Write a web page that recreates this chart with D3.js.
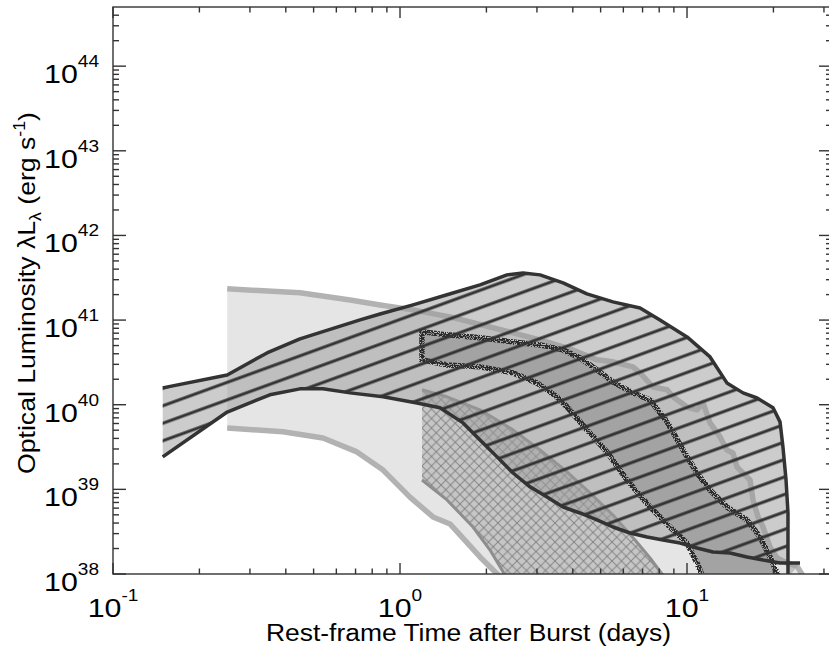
<!DOCTYPE html>
<html>
<head>
<meta charset="utf-8">
<script src="https://cdn.jsdelivr.net/npm/d3@7"></script>
<style>
  body { margin: 0; background: #fff; }
  svg { display: block; }
  text { font-family: "Liberation Sans", Arial, Helvetica, sans-serif; fill: #000; }
</style>
</head>
<body>
<div id="chart"></div>
<script>
// light band (thick grey edges), days vs erg/s
const bandA_upper = [
  [0.25,2.34e41],[0.448,2.10e41],[0.67,1.73e41],[0.852,1.51e41],[1.11,1.32e41],[1.49,1.09e41],
  [1.66,1.0e41],[2.48,7.06e40],[3.25,5.52e40],[4.0,4.44e40],[4.86,3.39e40],[5.52,3.21e40],
  [6.48,2.80e40],[6.86,2.38e40],[7.61,1.62e40],[8.52,1.50e40],[8.94,1.24e40],[10.0,9.4e39],
  [10.83,8.7e39],[11.37,1.05e40],[12.03,6.1e39],[13.03,4.16e39],[13.77,2.92e39],[14.46,2.69e39],
  [14.93,1.84e39],[15.67,1.56e39],[16.58,1.29e39],[16.98,7.5e38],[17.68,4.72e38],[18.40,3.59e38],
  [19.46,2.08e38],[20.59,1.55e38],[22.3,1.35e38],[24.17,1.24e38],[25.6,9e37]
];
const bandA_lower = [
  [0.25,5.3e39],[0.391,4.8e39],[0.539,4.05e39],[0.708,2.77e39],[0.873,1.69e39],[1.083,8.1e38],
  [1.303,4.72e38],[1.493,3.9e38],[1.90,1.59e38],[2.06,1.21e38],[2.25,9e37]
];
// cross-hatched band
const crossB_upper = [
  [1.193,1.50e40],[1.458,1.24e40],[1.90,8.7e39],[2.476,5.04e39],[3.075,2.92e39],[3.818,1.61e39],
  [4.59,9.07e38],[5.52,4.98e38],[6.59,2.52e38],[7.43,1.55e38],[8.18,1.0e38],[8.5,9e37]
];
const crossB_lower = [
  [1.193,1.29e39],[1.458,7.5e38],[1.796,3.59e38],[2.059,1.92e38],[2.285,1.06e38],[2.34,9e37]
];
// dark stippled band
const stipC_upper = [
  [1.193,7.26e40],[1.458,6.69e40],[1.90,6.17e40],[2.476,5.52e40],[3.075,5.09e40],[3.70,4.44e40],
  [4.24,3.57e40],[4.86,2.58e40],[5.52,1.86e40],[6.48,1.38e40],[7.43,1.14e40],[8.52,6.27e39],
  [9.68,2.92e39],[10.83,1.56e39],[12.03,9.8e38],[13.77,6.19e38],[16.18,4.35e38],[17.96,2.74e38],
  [19.46,1.59e38],[20.59,1.03e38],[20.9,9e37]
];
const stipC_lower = [
  [1.193,3.39e40],[1.458,2.95e40],[1.90,2.80e40],[2.476,2.38e40],[3.0,1.81e40],[3.52,1.24e40],
  [3.82,9.4e39],[4.48,5.04e39],[5.26,2.77e39],[6.18,1.29e39],[7.43,6.19e38],[8.72,3.59e38],
  [10.0,2.32e38],[10.83,1.35e38],[11.28,9.7e37],[11.4,8.5e37]
];
// line-hatched band (dark edges)
const hatchD_upper = [
  [0.149,1.58e40],[0.25,2.25e40],[0.344,4.09e40],[0.448,6.0e40],[0.726,1.005e41],[0.852,1.18e41],
  [1.11,1.51e41],[1.458,1.99e41],[1.90,2.61e41],[2.359,3.42e41],[2.683,3.61e41],[3.075,3.42e41],
  [3.70,2.75e41],[4.48,2.04e41],[5.52,1.64e41],[6.86,1.39e41],[8.05,1.0e41],[10.0,6.33e40],
  [12.03,3.67e40],[13.77,1.81e40],[15.67,1.38e40],[17.54,1.20e40],[19.94,9.2e39],[21.09,6.27e39],
  [21.59,3.17e39],[22.13,1.29e39],[22.48,5.26e38],[22.48,9e37]
];
const hatchD_lower = [
  [0.149,2.42e39],[0.25,8.2e39],[0.352,1.31e40],[0.448,1.54e40],[0.539,1.54e40],[0.67,1.38e40],
  [0.873,1.24e40],[1.146,1.05e40],[1.378,9.2e39],[1.658,6.1e39],[1.90,3.84e39],[2.178,2.42e39],
  [2.476,1.56e39],[2.838,1.07e39],[3.252,8.1e38],[3.698,6.19e38],[4.237,5.26e38],[4.857,4.35e38],
  [5.52,3.59e38],[6.33,3.05e38],[7.26,2.74e38],[8.25,2.52e38],[9.46,2.32e38],[10.83,2.03e38],
  [12.32,1.82e38],[14.12,1.77e38],[16.18,1.59e38],[18.40,1.46e38],[21.09,1.35e38],[24.76,1.35e38]
];

const xTickExps = [-1, 0, 1];
const yTickExps = [38, 39, 40, 41, 42, 43, 44];
const xTitle = 'Rest-frame Time after Burst (days)';

const W = 829, H = 648;
const L = 113, R = 832, T = 7, B = 574;

const x = d3.scaleLog().domain([0.1, 32]).range([L, R]);
const y = d3.scaleLog().domain([1e38, 5e44]).range([B, T]);

const svg = d3.select('#chart').append('svg')
  .attr('width', W).attr('height', H)
  .attr('viewBox', `0 0 ${W} ${H}`);

const defs = svg.append('defs');
defs.append('clipPath').attr('id', 'plotclip')
  .append('rect').attr('x', L).attr('y', T).attr('width', R - L).attr('height', B - T);

// crosshatch pattern
const cp = defs.append('pattern').attr('id', 'xhatch')
  .attr('patternUnits', 'userSpaceOnUse').attr('width', 9.5).attr('height', 9.5)
  .attr('x', 422).attr('y', 390);
cp.append('path').attr('d', 'M-1,-1L10.5,10.5M10.5,-1L-1,10.5')
  .attr('stroke', '#858585').attr('stroke-width', 1).attr('fill', 'none');

// diagonal line pattern, ~20 deg
const sp = 16.44;
const lp = defs.append('pattern').attr('id', 'lhatch')
  .attr('patternUnits', 'userSpaceOnUse').attr('width', sp).attr('height', sp)
  .attr('patternTransform', 'rotate(-20)');
lp.append('path').attr('d', `M-1,9.58H${sp + 1}`)
  .attr('stroke', '#333').attr('stroke-width', 3).attr('fill', 'none');

// speckle for the stippled edge
const f = defs.append('filter').attr('id', 'speckle')
  .attr('color-interpolation-filters', 'sRGB')
  .attr('x', '-5%').attr('y', '-5%').attr('width', '110%').attr('height', '110%');
f.append('feTurbulence').attr('type', 'fractalNoise').attr('baseFrequency', 0.75)
  .attr('numOctaves', 2).attr('seed', 7).attr('result', 'noise');
f.append('feColorMatrix').attr('in', 'noise').attr('type', 'matrix')
  .attr('values', '0 0 0 0 0  0 0 0 0 0  0 0 0 0 0  30 0 0 0 -13.6').attr('result', 'mask');
f.append('feComposite').attr('in', 'SourceGraphic').attr('in2', 'mask').attr('operator', 'in');

const line = d3.line().x(d => x(d[0])).y(d => y(d[1]));
const poly = (up, lo) => line(up.concat(lo.slice().reverse())) + 'Z';

const g = svg.append('g').attr('clip-path', 'url(#plotclip)');

// A
g.append('path').attr('d', poly(bandA_upper, bandA_lower)).attr('fill', '#e5e5e5');
[bandA_upper, bandA_lower].forEach(c => g.append('path').attr('d', line(c))
  .attr('fill', 'none').attr('stroke', '#b2b2b2').attr('stroke-width', 5.5).attr('stroke-linejoin', 'round'));

// B
g.append('path').attr('d', poly(crossB_upper, crossB_lower)).attr('fill', '#c6c6c6');
g.append('path').attr('d', poly(crossB_upper, crossB_lower)).attr('fill', 'url(#xhatch)');
[crossB_upper, crossB_lower].forEach(c => g.append('path').attr('d', line(c))
  .attr('fill', 'none').attr('stroke', '#8e8e8e').attr('stroke-width', 3).attr('stroke-linejoin', 'round'));

// D fill (translucent)
const dPath = poly(hatchD_upper, hatchD_lower);
g.append('path').attr('d', dPath).attr('fill', 'rgba(153,153,153,0.5)');

// C on top of D's tint, under its hatching
const cPath = poly(stipC_upper, stipC_lower);
g.append('path').attr('d', cPath).attr('fill', '#a3a3a3');
g.append('path').attr('d', cPath)
  .attr('fill', 'none').attr('stroke', '#666').attr('stroke-width', 1.4);
g.append('path').attr('d', cPath)
  .attr('fill', 'none').attr('stroke', '#2a2a2a').attr('stroke-width', 5.5)
  .attr('filter', 'url(#speckle)');

// D hatching + edges
g.append('path').attr('d', dPath).attr('fill', 'url(#lhatch)');
[hatchD_upper, hatchD_lower].forEach(c => g.append('path').attr('d', line(c))
  .attr('fill', 'none').attr('stroke', '#333').attr('stroke-width', 3.5).attr('stroke-linejoin', 'round'));

// frame + ticks
const ax = svg.append('g').attr('stroke', '#333').attr('stroke-width', 1.4).attr('fill', 'none');
ax.append('rect').attr('x', L).attr('y', T).attr('width', R - L).attr('height', B - T);

const xt = [];
for (let k = -1; k <= 1; k++) for (let m = 1; m <= 9; m++) {
  const v = m * Math.pow(10, k);
  if (v <= 32) xt.push({ v, major: m === 1 });
}
xt.forEach(d => {
  const px = x(d.v), len = d.major ? 11 : 5.5;
  ax.append('line').attr('x1', px).attr('x2', px).attr('y1', B).attr('y2', B - len);
  ax.append('line').attr('x1', px).attr('x2', px).attr('y1', T).attr('y2', T + len);
});
const yt = [];
for (let k = 38; k <= 44; k++) for (let m = 1; m <= 9; m++) {
  const v = m * Math.pow(10, k);
  if (v <= 5e44) yt.push({ v, major: m === 1 });
}
yt.forEach(d => {
  const py = y(d.v), len = d.major ? 13 : 6;
  ax.append('line').attr('x1', L).attr('x2', L + len).attr('y1', py).attr('y2', py);
  ax.append('line').attr('x1', R).attr('x2', R - len).attr('y1', py).attr('y2', py);
});

// tick labels: 10^n
function powLabel(px, py, exp, anchor) {
  const t = svg.append('g').attr('transform', `translate(${px},${py}) scale(1.19,1)`)
    .append('text').attr('text-anchor', anchor).style('font-size', '25.5px');
  t.append('tspan').text('10');
  t.append('tspan').attr('dy', -16).style('font-size', '16px').text(exp);
}
yTickExps.forEach(e => powLabel(99, y(Math.pow(10, e)) + 17, e, 'end'));
xTickExps.forEach(e => powLabel(x(Math.pow(10, e)), 617, e, 'middle'));

// axis titles
svg.append('text').attr('x', (L + 824) / 2).attr('y', 641).attr('text-anchor', 'middle')
  .attr('textLength', 405).attr('lengthAdjust', 'spacingAndGlyphs')
  .style('font-size', '23.5px').text(xTitle);

const yt2 = svg.append('text').attr('transform', 'translate(35,293) rotate(-90)')
  .attr('text-anchor', 'middle').attr('textLength', 362).attr('lengthAdjust', 'spacingAndGlyphs')
  .style('font-size', '24px');
yt2.append('tspan').text('Optical Luminosity \u03BBL');
yt2.append('tspan').attr('dy', 6).style('font-size', '16px').text('\u03BB');
yt2.append('tspan').attr('dy', -6).text(' (erg s');
yt2.append('tspan').attr('dy', -10).style('font-size', '16px').text('-1');
yt2.append('tspan').attr('dy', 10).text(')');
</script>
</body>
</html>
